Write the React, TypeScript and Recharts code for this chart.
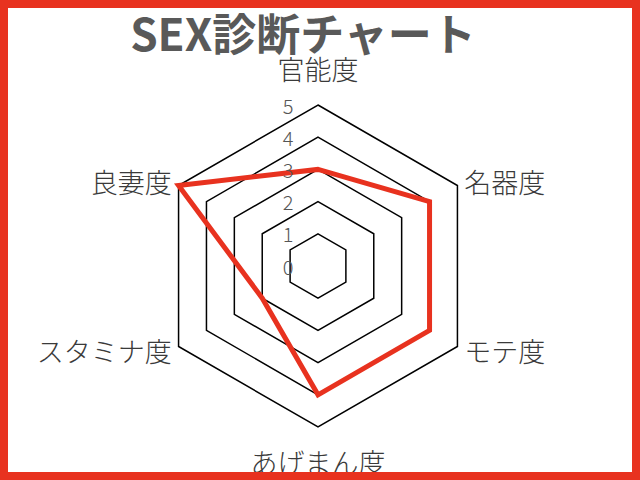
import React from 'react';
import { RadarChart, Radar, PolarGrid, PolarAngleAxis, PolarRadiusAxis } from 'recharts';

const categories = ['官能度', '名器度', 'モテ度', 'あげまん度', 'スタミナ度', '良妻度'];
const scores = [3, 4, 4, 4, 2, 5];
const radiusTicks = [0, 1, 2, 3, 4, 5];

const data = categories.map((name, i) => ({ name, score: scores[i] }));

const RED = '#e8321f';
const FONT = '"Noto Sans CJK JP", "Noto Sans", sans-serif';

function AngleTick(props: any) {
  const { x, y, payload } = props;
  const angle = Math.round(payload.coordinate);
  let tx = x;
  let ty = y;
  let anchor = 'middle';
  if (angle === 90) {
    ty = y - 29;
  } else if (angle === -90 || angle === 270) {
    ty = y + 26;
  } else if (Math.cos((angle * Math.PI) / 180) > 0) {
    tx = x;
    anchor = 'start';
  } else {
    tx = x;
    anchor = 'end';
  }
  return (
    <text x={tx} y={ty} textAnchor={anchor} dominantBaseline="central" fill="#3a3a3a" fontSize={27} fontWeight={300} fontFamily={FONT}>
      {payload.value}
    </text>
  );
}

function RadiusTick(props: any) {
  const { x, y, payload } = props;
  return (
    <text x={x - 30} y={y} textAnchor="middle" dominantBaseline="central" fill="#555" fontSize={20} fontWeight={300} fontFamily={FONT}>
      {payload.value}
    </text>
  );
}

export default function App() {
  return (
    <div
      style={{
        position: 'absolute',
        left: 0,
        top: 0,
        width: 640,
        height: 480,
        boxSizing: 'border-box',
        border: '8px solid ' + RED,
        background: '#fff',
        overflow: 'hidden',
      }}
    >
      <div
        style={{
          position: 'absolute',
          left: 0,
          top: 0,
          width: 590,
          textAlign: 'center',
          fontFamily: FONT,
          fontWeight: 700,
          fontSize: 44,
          lineHeight: '48px',
          color: '#595959',
          whiteSpace: 'nowrap',
        }}
      >
        SEX診断チャート
      </div>
      <div style={{ position: 'absolute', left: -8, top: -8 }}>
        <RadarChart width={640} height={480} data={data} cx={318} cy={266} outerRadius={161} startAngle={90} endAngle={-270}>
          <PolarGrid gridType="polygon" radialLines={false} stroke="#000" strokeWidth={1.5} />
          <PolarAngleAxis dataKey="name" tick={<AngleTick />} tickLine={false} axisLine={false} />
          <PolarRadiusAxis
            angle={90}
            domain={[0, 5]}
            ticks={radiusTicks as any}
            tickCount={6}
            tick={<RadiusTick />}
            axisLine={false}
            tickLine={false}
          />
          <Radar dataKey="score" stroke={RED} strokeWidth={5} fill="none" fillOpacity={0} isAnimationActive={false} dot={false} />
        </RadarChart>
      </div>
    </div>
  );
}
